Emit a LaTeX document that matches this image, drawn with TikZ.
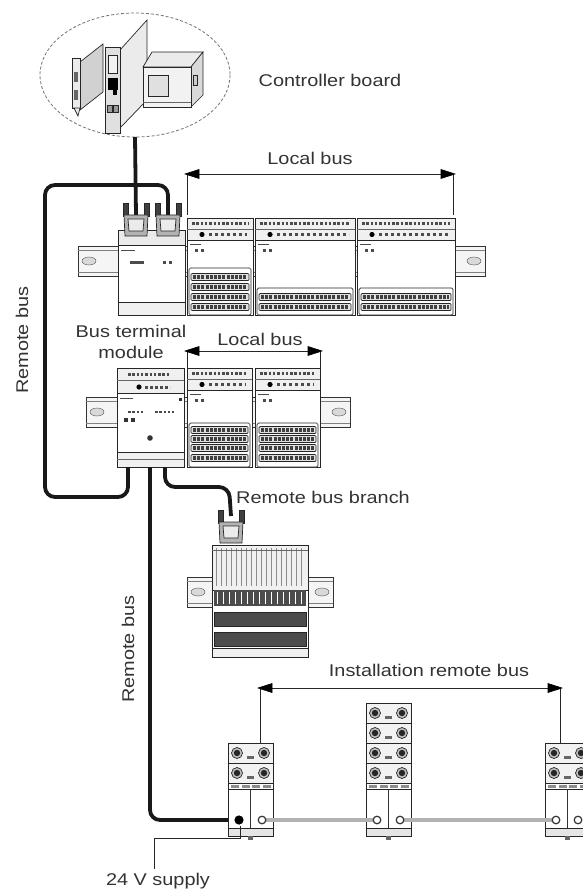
\documentclass[tikz,border=0pt]{standalone}
\usepackage{fontspec}
\usepackage{graphicx}
\newfontfamily\lblfont{Liberation Sans}
\usetikzlibrary{arrows.meta}
\newcommand\st[1]{\scalebox{1.17}[1]{#1}}
\tikzset{
  dev/.style={draw=black!85, line width=0.7pt, fill=white},
  railbox/.style={draw=black!80, line width=0.7pt, fill=black!4},
  cable/.style={line width=3.8pt, black!90, rounded corners=10pt},
  gcable/.style={line width=3.6pt, black!30},
  dimline/.style={line width=0.9pt, black!85},
  tiptri/.style={draw=black, fill=black, line width=0.6pt, line join=miter},
  lbl/.style={font=\lblfont\fontsize{17}{20}\selectfont, text=black!80, inner sep=0pt},
  leds/.style={line width=3pt, black!70, dash pattern=on 2.5pt off 1.8pt},
  terms/.style={line width=4.5pt, black!75, dash pattern=on 3pt off 1.2pt},
  socket/.style={draw=black!80, line width=1.2pt, fill=white},
}
% IO module: x1 x2 ytop yterm ybot
\newcommand\IOmod[5]{%
  \draw[dev] (#1,#3) rectangle (#2,#5);
  \draw[dev,fill=black!6] (#1,#3) rectangle (#2,#3+22);
  \draw[black!60] (#1,#3+11) -- (#2,#3+11);
  \draw[leds] (#1+5,#3+5.5) -- (#2-5,#3+5.5);
  \fill[black] (#1+15,#3+16.5) circle (2.6);
  \draw[leds, dash pattern=on 3pt off 3pt] (#1+22,#3+16.5) -- (#2-6,#3+16.5);
  \draw[black!70, line width=0.5pt] (#1+3,#3+26) -- (#1+14,#3+26);
  \fill[black!70] (#1+8,#3+31) rectangle +(3,2.5);
  \fill[black!70] (#1+14,#3+31) rectangle +(3,2.5);
  \draw[dev, rounded corners=1.5pt] (#1+2,#4) rectangle (#2-2,#5);
}
% terminal row: x1 x2 y
\newcommand\trow[3]{%
  \draw[dev, fill=black!12, rounded corners=1pt] (#1+4,#3-3.5) rectangle (#2-4,#3+3.5);
  \draw[terms] (#1+6,#3) -- (#2-6,#3);
}
% D-sub connector: cx ytop
\newcommand\dsub[2]{%
  \draw[dev, fill=black!75] (#1-13,#2) rectangle (#1-8,#2+13);
  \draw[dev, fill=black!75] (#1+8,#2) rectangle (#1+13,#2+13);
  \draw[dev, fill=black!30] (#1-12,#2+12) -- (#1+12,#2+12) -- (#1+11,#2+33) -- (#1-11,#2+33) -- cycle;
  \draw[dev, fill=black!8] (#1-8,#2+16) -- (#1+8,#2+16) -- (#1+7,#2+28) -- (#1-7,#2+28) -- cycle;
}
% rail: x1 y1 x2 y2
\newcommand\rail[4]{%
  \draw[railbox] (#1,#2) rectangle (#3,#4);
  \draw[black!50] (#1,#2+4) -- (#3,#2+4);
  \draw[black!50] (#1,#4-4) -- (#3,#4-4);
  \draw[black!70, fill=black!15] (#1+11,#2/2+#4/2) ellipse (7 and 4);
  \draw[black!70, fill=black!15] (#3-11,#2/2+#4/2) ellipse (7 and 4);
}
% IP67 connector row: x y
\newcommand\iprow[2]{%
  \draw[dev, fill=black!5] (#1,#2) rectangle (#1+45,#2+20);
  \draw[dev, fill=black!25] (#1+9,#2+10) circle (5.5);
  \fill[black!85] (#1+9,#2+10) circle (3.2);
  \draw[dev, fill=black!25] (#1+36,#2+10) circle (5.5);
  \fill[black!85] (#1+36,#2+10) circle (3.2);
  \fill[black!60] (#1+19,#2+13) rectangle (#1+26,#2+16);
}
% IP67 lower part: x
\newcommand\iplow[1]{%
  \draw[dev] (#1,783) rectangle (#1+45,789);
  \foreach \k in {0,1,2,3} \fill[black!45] (#1+3+\k*10.5,784.5) rectangle +(8,3);
  \draw[dev] (#1,789) rectangle (#1+45,828);
  \draw[black!80, line width=0.7pt] (#1+22.5,789) -- (#1+22.5,828);
  \draw[dev, fill=black!10] (#1,828) rectangle (#1+45,836);
  \fill[black!60] (#1+20,836) rectangle (#1+25,840);
}
\begin{document}
\begin{tikzpicture}[x=1pt,y=-1pt]
\useasboundingbox (0,0) rectangle (582,893);
\fill[white] (0,0) rectangle (582,893);

% ---------------- controller board ----------------
\draw[black!55, line width=0.8pt, dash pattern=on 3pt off 2pt] (135,75) ellipse (95 and 62);
\draw[dev, fill=black!18] (80,62) -- (103,44) -- (103,92) -- (80,110) -- cycle;
\draw[dev, fill=black!8] (72,58) rectangle (80,108);
\draw[dev, fill=black!8] (74,108) -- (80,108) -- (78,116) -- cycle;
\fill[black!60] (74,72) rectangle (78,82);
\fill[black!60] (74,90) rectangle (78,100);
\draw[dev, fill=black!8] (120,50) -- (147,20) -- (147,100) -- (120,128) -- cycle;
\draw[dev, fill=black!12] (105,47) rectangle (120,133);
\draw[dev, fill=black!5] (108,55) rectangle (117,73);
\fill[black] (108,78) rectangle (118,90);
\fill[black] (113,86) rectangle (117,95);
\draw[dev, fill=black!40] (107,105) rectangle (112,112);
\draw[dev, fill=black!40] (113,105) rectangle (118,112);
\draw[dev, fill=black!8] (143,67) -- (152,52) -- (203,52) -- (191,67) -- cycle;
\draw[dev, fill=black!15] (191,67) -- (203,52) -- (203,95) -- (191,107) -- cycle;
\draw[dev, fill=black!5] (143,67) rectangle (191,107);
\draw[dev, fill=black!12] (148,75) rectangle (168,96);
\draw[black!60] (143,102) -- (191,102);
\draw[dev, fill=black!20] (193,75) rectangle (197,85);

% ---------------- row 1 ----------------
\rail{78}{246}{485}{276}
\draw[dev] (118,230) rectangle (185,315);
\draw[dev, fill=black!8] (118,230) rectangle (185,245);
\draw[black!70, line width=0.5pt] (121,250) -- (135,250);
\fill[black!70] (130,261) rectangle +(14,2.5);
\fill[black!70] (163,261) rectangle +(3,2.5);
\fill[black!70] (169,261) rectangle +(3,2.5);
\draw[dev, fill=black!6] (118,302) rectangle (185,315);
\IOmod{187}{253}{218}{268}{315}
\trow{187}{253}{277}\trow{187}{253}{287}\trow{187}{253}{297}\trow{187}{253}{307}
\IOmod{255}{355}{218}{288}{315}
\trow{255}{355}{297}\trow{255}{355}{307}
\IOmod{357}{455}{218}{288}{315}
\trow{357}{455}{297}\trow{357}{455}{307}

% ---------------- row 2 ----------------
\rail{86}{397}{350}{427}
\draw[dev] (117,368) rectangle (184,467);
\draw[dev, fill=black!6] (117,368) rectangle (184,393);
\draw[black!60] (117,380) -- (184,380);
\draw[leds] (128,374) -- (170,374);
\fill[black] (139,387) circle (2.6);
\draw[leds, dash pattern=on 3pt off 2pt] (145,387) -- (170,387);
\draw[black!70, line width=0.5pt] (120,398) -- (133,398);
\draw[leds, line width=2.5pt] (128,412) -- (145,412);
\draw[leds, line width=2.5pt] (155,412) -- (174,412);
\fill[black!80] (124,418) rectangle +(4,4);
\fill[black!80] (131,418) rectangle +(4,4);
\fill[black!80] (179,398) rectangle +(3,3);
\fill[black!80] (150,438) circle (2.8);
\draw[dev, fill=black!6] (117,452) rectangle (184,467);
\draw[black!60] (117,459) -- (184,459);
\IOmod{187}{252}{368}{423}{467}
\trow{187}{252}{430}\trow{187}{252}{439}\trow{187}{252}{448}\trow{187}{252}{458}
\IOmod{255}{320}{368}{423}{467}
\trow{255}{320}{430}\trow{255}{320}{439}\trow{255}{320}{448}\trow{255}{320}{458}

% ---------------- remote bus branch module ----------------
\rail{187}{577}{333}{607}
\draw[dev] (212,545) rectangle (308,657);
\draw[dev, fill=black!6] (212,545) rectangle (308,590);
\draw[black!45, line width=38pt, dash pattern=on 0.7pt off 4.3pt] (216,567) -- (304,567);
\draw[black!60] (212,550) -- (308,550);
\fill[black!70] (214,590) rectangle (306,606);
\draw[white, line width=12pt, dash pattern=on 1pt off 5pt] (217,598) -- (304,598);
\draw[dev, fill=black!70] (214,612) rectangle (306,626);
\draw[dev, fill=black!70] (214,632) rectangle (306,646);
\draw[dev, fill=black!6] (212,648) rectangle (308,657);

% ---------------- cables ----------------
\coordinate (ellb) at (135,137);
\coordinate (bt1a) at (136,215);
\coordinate (bt1b) at (168,215);
\coordinate (bt2l) at (128,467);
\coordinate (bt2m) at (150,467);
\coordinate (bt2r) at (165,467);
\coordinate (brc) at (231,516);
\coordinate (ipa) at (239,820);
\draw[cable] (ellb) -- (bt1a);
\draw[cable] (bt1b) -- (168,185) -- (45,185) -- (45,497) -- (128,497) -- (bt2l);
\draw[cable] (bt2r) -- (165,487) -- (229,487) -- (brc);
\draw[cable] (bt2m) -- (150,820) -- (ipa);
\dsub{136}{203}
\dsub{168}{203}
\dsub{231}{510}

% ---------------- IP67 modules ----------------
\iprow{228}{743}\iprow{228}{763}\iplow{228}
\iprow{366}{703}\iprow{366}{723}\iprow{366}{743}\iprow{366}{763}\iplow{366}
\iprow{545}{743}\iprow{545}{763}\iplow{545}
\coordinate (ipar) at (262,820);
\coordinate (ipbl) at (377,820);
\coordinate (ipbr) at (400,820);
\coordinate (ipcl) at (556,820);
\coordinate (ipcr) at (578,820);
\draw[gcable] (ipar) -- (ipbl);
\draw[gcable] (ipbr) -- (ipcl);
\draw[socket] (ipar) circle (3.8);
\draw[socket] (ipbl) circle (3.8);
\draw[socket] (ipbr) circle (3.8);
\draw[socket] (ipcl) circle (3.8);
\draw[socket] (ipcr) circle (3.8);
\fill[black] (ipa) circle (4.6);

% 24 V supply line
\node[lbl, anchor=base] (sup) at (158,885) {\st{24 V supply}};
\draw[dimline] (240,826) -- (240,838) -- (154,838) -- (154,869);

% ---------------- bus extent arrows ----------------
\coordinate (a1l) at (187,174);
\coordinate (a1r) at (453,174);
\coordinate (a2l) at (187,351);
\coordinate (a2r) at (320,351);
\coordinate (a3l) at (260,688);
\coordinate (a3r) at (560,688);
\draw[dimline] (187,215) -- (a1l) -- (a1r) -- (453,215);
\draw[dimline] (187,368) -- (a2l) -- (a2r) -- (320,368);
\draw[dimline] (260,743) -- (a3l) -- (a3r) -- (560,743);
\draw[tiptri] (185,174) -- (199,169.5) -- (199,178.5) -- cycle;
\draw[tiptri] (455,174) -- (441,169.5) -- (441,178.5) -- cycle;
\draw[tiptri] (185,351) -- (199,346.5) -- (199,355.5) -- cycle;
\draw[tiptri] (322,351) -- (308,346.5) -- (308,355.5) -- cycle;
\draw[tiptri] (258,688) -- (272,683.5) -- (272,692.5) -- cycle;
\draw[tiptri] (562,688) -- (548,683.5) -- (548,692.5) -- cycle;

% ---------------- labels ----------------
\node[lbl, anchor=base] (ctrl) at (330,87) {\st{Controller board}};
\node[lbl, anchor=base] (lb1) at (310,165) {\st{Local bus}};
\node[lbl, anchor=base] (btm1) at (131,337) {\st{Bus terminal}};
\node[lbl, anchor=base] (btm2) at (131,358) {\st{module}};
\node[lbl, anchor=base] (lb2) at (260,345) {\st{Local bus}};
\node[lbl, anchor=base] (rbb) at (323,503) {\st{Remote bus branch}};
\node[lbl, rotate=90] (rb1) at (22,340) {\st{Remote bus}};
\node[lbl, rotate=90] (rb2) at (128,649) {\st{Remote bus}};
\node[lbl, anchor=base] (irb) at (429,676) {\st{Installation remote bus}};
\end{tikzpicture}
\end{document}
